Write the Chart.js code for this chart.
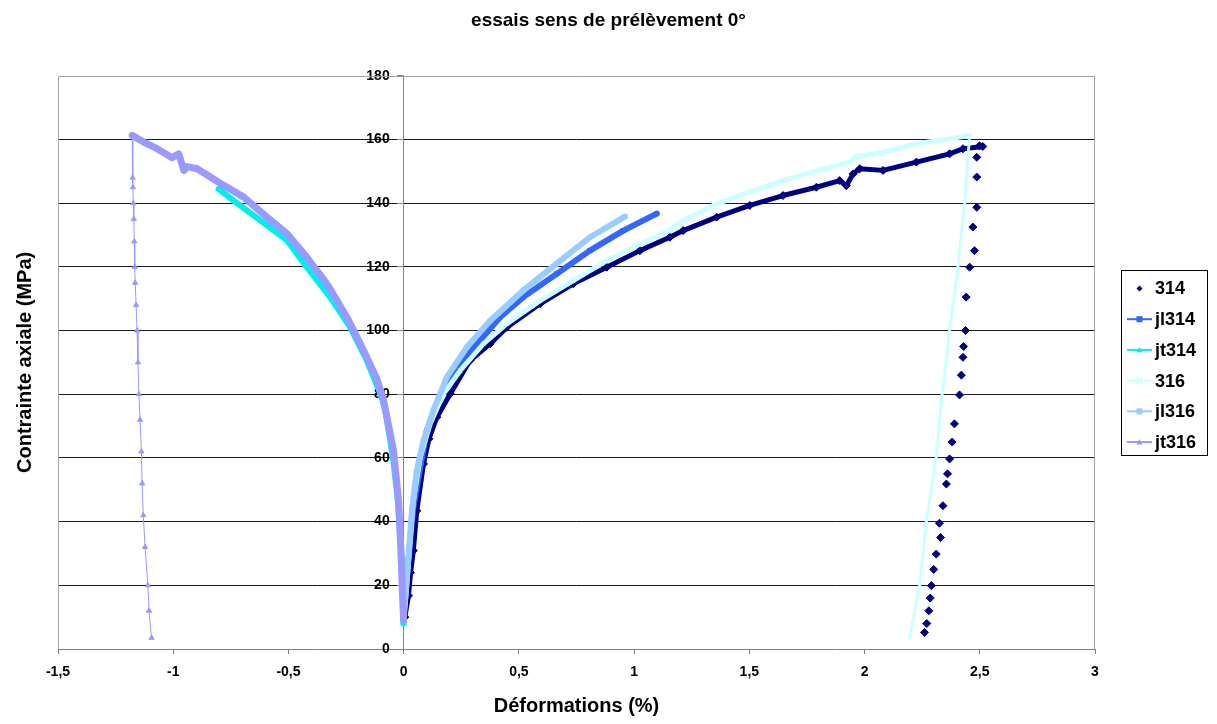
<!DOCTYPE html>
<html>
<head>
<meta charset="utf-8">
<script src="https://cdn.jsdelivr.net/npm/chart.js"></script>
<style>
  html, body { margin: 0; padding: 0; background: #fff; }
</style>
</head>
<body>
<canvas id="chart" width="1217" height="724"></canvas>
<script>
// series: strain (%) and stress (MPa)
const x314 = [0.005, 0.021, 0.03, 0.042, 0.057, 0.086, 0.11, 0.144, 0.202, 0.288, 0.375, 0.447, 0.592, 0.736, 0.881, 1.025, 1.155, 1.213, 1.358, 1.502, 1.646, 1.791, 1.892, 1.921, 1.95, 1.979, 2.08, 2.225, 2.369, 2.427, 2.513, 2.499, 2.487, 2.487, 2.487, 2.47, 2.477, 2.456, 2.441, 2.438, 2.43, 2.427, 2.42, 2.412, 2.39, 2.38, 2.369, 2.36, 2.355, 2.34, 2.325, 2.33, 2.311, 2.30, 2.29, 2.285, 2.279, 2.27, 2.26];
const y314 = [10, 16.7, 24, 30.9, 43.4, 58.1, 66, 72.8, 80.1, 90.6, 95.8, 101, 108.4, 114.7, 119.9, 125.1, 129.3, 131.4, 135.6, 139.3, 142.4, 145, 147.1, 145.5, 149.2, 150.8, 150.3, 152.9, 155.5, 157.1, 157.8, 158, 154.4, 148.2, 138.7, 132.5, 125.1, 119.9, 110.5, 100, 95, 91.6, 86, 79.8, 70.7, 65, 59.7, 55, 51.8, 45, 39.5, 35, 29.8, 25, 19.9, 16, 12, 8, 5.2];

const xjl314 = [0.0, 0.006, 0.02, 0.042, 0.072, 0.1, 0.158, 0.187, 0.245, 0.332, 0.418, 0.519, 0.664, 0.808, 0.953, 1.098];
const yjl314 = [9, 15, 27.7, 44.5, 57, 68.6, 79, 83.3, 89.5, 96.9, 104.2, 110.5, 117.8, 125.1, 131.4, 136.7];

const xjt314 = [0.0, -0.002, -0.006, -0.014, -0.026, -0.046, -0.08, -0.1, -0.16, -0.232, -0.319, -0.42, -0.506, -0.622, -0.738, -0.803];
const yjt314 = [8, 15, 25, 35, 47, 60, 75, 80, 90.6, 101, 110.5, 119.9, 128.3, 134.6, 140.8, 144.5];

const x316 = [0.0, 0.01, 0.021, 0.042, 0.072, 0.115, 0.172, 0.245, 0.346, 0.447, 0.592, 0.736, 0.881, 1.025, 1.155, 1.213, 1.358, 1.5, 1.646, 1.8, 1.935, 1.96, 2.08, 2.225, 2.369, 2.456, 2.441, 2.434, 2.405, 2.369, 2.337, 2.311, 2.268, 2.239, 2.196];
const y316 = [10, 17, 27.7, 46.6, 60.2, 70.7, 80.1, 87.4, 95.8, 102.1, 109.4, 115.7, 122, 127.2, 131.4, 134.6, 139.8, 143.5, 147.1, 150.3, 152.9, 154.5, 156, 158.7, 160.2, 161.3, 147, 140, 119.9, 100, 80, 60, 40, 20, 3.6];

const xjl316 = [0.0, 0.006, 0.021, 0.036, 0.057, 0.086, 0.129, 0.187, 0.274, 0.375, 0.519, 0.664, 0.808, 0.96];
const yjl316 = [10, 15.2, 28.8, 43.4, 56, 65.4, 74.9, 85.3, 94.8, 103.1, 112.6, 121, 129.3, 135.8];

const xjt316 = [0.0, -0.004, -0.012, -0.022, -0.044, -0.087, -0.116, -0.174, -0.246, -0.333, -0.42, -0.506, -0.593, -0.694, -0.803, -0.896, -0.94, -0.954, -0.976, -1.005, -1.07, -1.128, -1.178, -1.176, -1.175, -1.173, -1.171, -1.169, -1.167, -1.165, -1.161, -1.157, -1.153, -1.149, -1.144, -1.138, -1.135, -1.13, -1.122, -1.11, -1.105, -1.094];
const yjt316 = [9, 15.2, 30.9, 46.6, 62.3, 78, 84.8, 93.7, 104.2, 114.7, 123, 130.4, 135.6, 141.9, 146.6, 150.8, 151.5, 150.3, 155.5, 154.3, 157.1, 159.2, 161.3, 148, 145, 140, 135, 128, 120, 115, 108, 100, 90, 80, 72, 62, 52, 42, 32, 20, 12, 3.5];

const names = ['314', 'jl314', 'jt314', '316', 'jl316', 'jt316'];
const xTicksMin = -1.5, xTicksMax = 3, xStep = 0.5;
const yTicksMin = 0, yTicksMax = 180, yStep = 20;

// look
const FONT = '"Liberation Sans", Arial, sans-serif';
const colors = ['#000080', '#3366FF', '#00EEEE', '#CCFFFF', '#99CCFF', '#9999FF'];
const markers = ['rectRot', 'rect', 'triangle', 'crossRot', 'rect', 'triangle'];
const band = [5, 6, 6, 5, 6, 7];     // thick loading branch (dense markers in the original)
const tail = [0, 1, 1, 3, 1, 1];     // unloading branch
const legendLine = [false, true, true, true, true, true];

const series = [[x314, y314], [xjl314, yjl314], [xjt314, yjt314], [x316, y316], [xjl316, yjl316], [xjt316, yjt316]];

const datasets = series.map(([xs, ys], i) => {
  const peak = ys.indexOf(Math.max(...ys));
  return {
    label: names[i],
    data: xs.map((x, k) => ({ x: x, y: ys[k] })),
    showLine: true,
    borderColor: colors[i],
    backgroundColor: colors[i],
    borderWidth: band[i],
    borderJoinStyle: 'round',
    borderCapStyle: 'round',
    pointStyle: markers[i],
    pointRadius: i === 0 ? 4 : 3,
    pointBorderWidth: 1,
    order: names.length - i,
    segment: {
      borderWidth: c => c.p0DataIndex >= peak ? Math.max(tail[i], 1) : band[i],
      borderColor: c => (c.p0DataIndex >= peak && tail[i] === 0) ? 'rgba(0,0,0,0)' : colors[i]
    }
  };
});

function marker(ctx, style, x, y, r, color) {
  ctx.fillStyle = color;
  ctx.strokeStyle = color;
  ctx.lineWidth = 1;
  ctx.beginPath();
  if (style === 'rectRot') {
    ctx.moveTo(x, y - r); ctx.lineTo(x + r, y); ctx.lineTo(x, y + r); ctx.lineTo(x - r, y); ctx.closePath(); ctx.fill();
  } else if (style === 'rect') {
    ctx.rect(x - r, y - r, 2 * r, 2 * r); ctx.fill();
  } else if (style === 'triangle') {
    ctx.moveTo(x, y - r); ctx.lineTo(x + r, y + r * 0.8); ctx.lineTo(x - r, y + r * 0.8); ctx.closePath(); ctx.fill();
  } else {
    ctx.lineWidth = 2;
    ctx.moveTo(x - r, y - r); ctx.lineTo(x + r, y + r); ctx.moveTo(x + r, y - r); ctx.lineTo(x - r, y + r); ctx.stroke();
  }
}

const plotFrame = {
  id: 'plotFrame',
  beforeDatasetsDraw(chart) {
    const { left, top, right, bottom } = chart.chartArea;
    const ctx = chart.ctx;
    ctx.save();
    ctx.strokeStyle = '#a0a0a0';
    ctx.lineWidth = 1;
    ctx.beginPath();
    ctx.moveTo(Math.round(left) + 0.5, bottom);
    ctx.lineTo(Math.round(left) + 0.5, Math.round(top) + 0.5);
    ctx.lineTo(Math.round(right) - 0.5, Math.round(top) + 0.5);
    ctx.lineTo(Math.round(right) - 0.5, bottom);
    ctx.stroke();
    ctx.restore();
  }
};

const sideLegend = {
  id: 'sideLegend',
  afterDraw(chart) {
    const ctx = chart.ctx;
    ctx.save();
    ctx.strokeStyle = '#000';
    ctx.lineWidth = 1;
    ctx.strokeRect(1121.5, 270.5, 86, 185);
    ctx.font = 'bold 18px ' + FONT;
    ctx.textBaseline = 'middle';
    chart.data.datasets.forEach((ds, i) => {
      const y = 288.5 + i * 30.7;
      if (legendLine[i]) {
        ctx.strokeStyle = colors[i];
        ctx.lineWidth = 2;
        ctx.beginPath(); ctx.moveTo(1127, y); ctx.lineTo(1152, y); ctx.stroke();
      }
      marker(ctx, markers[i], 1139.5, y, 3, colors[i]);
      ctx.fillStyle = '#000';
      ctx.fillText(ds.label, 1155, y + 1);
    });
    ctx.restore();
  }
};

new Chart(document.getElementById('chart'), {
  type: 'scatter',
  data: { datasets: datasets },
  options: {
    responsive: false,
    animation: false,
    layout: { padding: 0 },
    plugins: {
      legend: { display: false },
      tooltip: { enabled: false },
      title: {
        display: true,
        text: 'essais sens de prélèvement 0°',
        color: '#000',
        font: { family: FONT, size: 19, weight: 'bold' },
        padding: { top: 9, bottom: 44 }
      }
    },
    scales: {
      x: {
        type: 'linear',
        position: 'bottom',
        min: xTicksMin,
        max: xTicksMax,
        ticks: {
          stepSize: xStep,
          color: '#000',
          font: { family: FONT, size: 14, weight: 'bold' },
          padding: 10,
          callback: v => String(v).replace('.', ',')
        },
        grid: { drawOnChartArea: false, drawTicks: true, tickLength: 5, color: '#808080' },
        border: { color: '#808080' },
        title: {
          display: true,
          text: 'Déformations (%)',
          color: '#000',
          font: { family: FONT, size: 20, weight: 'bold' },
          padding: { top: 0, bottom: 6 }
        },
        afterFit: s => { s.height = 75; }
      },
      y: {
        type: 'linear',
        position: { x: 0 },
        min: yTicksMin,
        max: yTicksMax,
        ticks: {
          stepSize: yStep,
          color: '#000',
          font: { family: FONT, size: 14, weight: 'bold' },
          // labels sit right against the crossing axis; keep them clear of the tick mark
          callback: v => v + '\u2002\u2002'
        },
        grid: {
          color: c => (c.tick && (c.tick.value === yTicksMin || c.tick.value === yTicksMax)) ? 'rgba(0,0,0,0)' : '#1a1a1a',
          tickColor: '#808080',
          tickLength: 6
        },
        border: { color: '#808080' }
      },
      yt: {
        type: 'linear',
        position: 'left',
        ticks: { display: false },
        grid: { display: false, drawTicks: false },
        border: { display: false },
        title: {
          display: true,
          text: 'Contrainte axiale (MPa)',
          color: '#000',
          font: { family: FONT, size: 20, weight: 'bold' },
          padding: { top: 13, bottom: 21 }
        },
        afterFit: s => { s.width = 58; }
      },
      legendSpace: {
        type: 'linear',
        position: 'right',
        ticks: { display: false },
        grid: { display: false, drawTicks: false },
        border: { display: false },
        afterFit: s => { s.width = 122; }
      }
    }
  },
  plugins: [plotFrame, sideLegend]
});
</script>
</body>
</html>
